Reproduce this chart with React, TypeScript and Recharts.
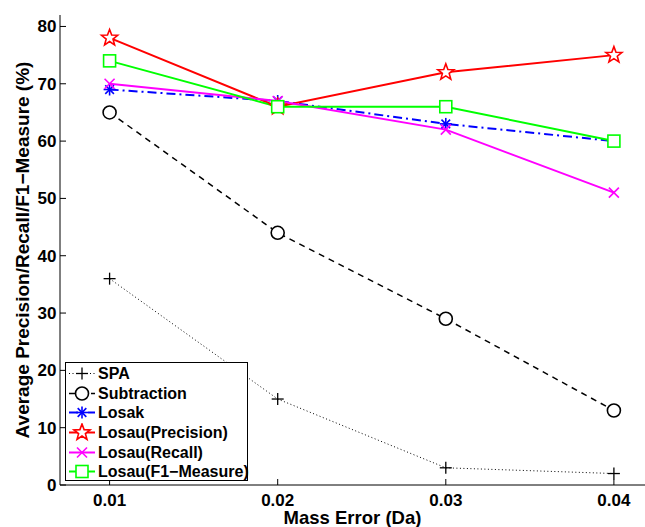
import { LineChart, Line, XAxis, YAxis } from 'recharts';

const massError = [0.01, 0.02, 0.03, 0.04];
const spa = [36, 15, 3, 2];
const subtraction = [65, 44, 29, 13];
const losak = [69, 67, 63, 60];
const losauPrecision = [78, 66, 72, 75];
const losauRecall = [70, 67, 62, 51];
const losauF1 = [74, 66, 66, 60];
const xTicks = [0.01, 0.02, 0.03, 0.04];
const yTicks = [0, 10, 20, 30, 40, 50, 60, 70, 80];

const FONT = '"Liberation Sans", Arial, Helvetica, sans-serif';

type MarkerKind = 'plus' | 'circle' | 'asterisk' | 'star' | 'cross' | 'square';

const series = [
  { key: 'spa', name: 'SPA', values: spa, color: '#000000', width: 1, dash: '1 2.5', marker: 'plus' as MarkerKind },
  { key: 'subtraction', name: 'Subtraction', values: subtraction, color: '#000000', width: 1.5, dash: '6 5', marker: 'circle' as MarkerKind },
  { key: 'losak', name: 'Losak', values: losak, color: '#0000ff', width: 2, dash: '9 4 2 4', marker: 'asterisk' as MarkerKind },
  { key: 'precision', name: 'Losau(Precision)', values: losauPrecision, color: '#ff0000', width: 2, dash: undefined, marker: 'star' as MarkerKind },
  { key: 'recall', name: 'Losau(Recall)', values: losauRecall, color: '#ff00ff', width: 2, dash: undefined, marker: 'cross' as MarkerKind },
  { key: 'f1', name: 'Losau(F1\u2212Measure)', values: losauF1, color: '#00ff00', width: 2, dash: undefined, marker: 'square' as MarkerKind },
];

const data = massError.map((x, i) => {
  const row: Record<string, number> = { x };
  series.forEach((s) => {
    row[s.key] = s.values[i];
  });
  return row;
});

function marker(kind: MarkerKind, cx: number, cy: number, color: string, key?: string) {
  const sw = 1.6;
  if (kind === 'plus') {
    const r = 6;
    return (
      <g key={key}>
        <line x1={cx - r} y1={cy} x2={cx + r} y2={cy} stroke={color} strokeWidth={1.3} />
        <line x1={cx} y1={cy - r} x2={cx} y2={cy + r} stroke={color} strokeWidth={1.3} />
      </g>
    );
  }
  if (kind === 'circle') {
    return <circle key={key} cx={cx} cy={cy} r={6.5} fill="#fff" stroke={color} strokeWidth={sw} />;
  }
  if (kind === 'asterisk') {
    const r = 6;
    const d = r * 0.72;
    return (
      <g key={key} stroke={color} strokeWidth={sw}>
        <line x1={cx - r} y1={cy} x2={cx + r} y2={cy} />
        <line x1={cx} y1={cy - r} x2={cx} y2={cy + r} />
        <line x1={cx - d} y1={cy - d} x2={cx + d} y2={cy + d} />
        <line x1={cx - d} y1={cy + d} x2={cx + d} y2={cy - d} />
      </g>
    );
  }
  if (kind === 'star') {
    const R = 8.5;
    const rIn = R * 0.42;
    const pts: string[] = [];
    for (let k = 0; k < 10; k++) {
      const a = -Math.PI / 2 + (k * Math.PI) / 5;
      const rr = k % 2 === 0 ? R : rIn;
      pts.push(`${cx + rr * Math.cos(a)},${cy + rr * Math.sin(a)}`);
    }
    return <polygon key={key} points={pts.join(' ')} fill="#fff" stroke={color} strokeWidth={sw} />;
  }
  if (kind === 'cross') {
    const r = 5;
    return (
      <g key={key} stroke={color} strokeWidth={sw}>
        <line x1={cx - r} y1={cy - r} x2={cx + r} y2={cy + r} />
        <line x1={cx - r} y1={cy + r} x2={cx + r} y2={cy - r} />
      </g>
    );
  }
  const h = 6;
  return <rect key={key} x={cx - h} y={cy - h} width={2 * h} height={2 * h} fill="#fff" stroke={color} strokeWidth={sw} />;
}

const XTick = (props: any) => {
  const { x, y, payload } = props;
  return (
    <g>
      <line x1={x} y1={y} x2={x} y2={y - 6} stroke="#000" />
      <text x={x} y={y + 20.5} textAnchor="middle" fontFamily={FONT} fontWeight="bold" fontSize={17} fill="#000">
        {Number(payload.value).toFixed(2)}
      </text>
    </g>
  );
};

const YTick = (props: any) => {
  const { x, y, payload } = props;
  return (
    <g>
      <line x1={x} y1={y} x2={x + 6} y2={y} stroke="#000" />
      <text x={x - 3.5} y={y + 6} textAnchor="end" fontFamily={FONT} fontWeight="bold" fontSize={17} fill="#000">
        {payload.value}
      </text>
    </g>
  );
};

const YLabel = (props: any) => {
  const vb = props.viewBox || { y: 15, height: 470 };
  const cy = vb.y + vb.height / 2;
  return (
    <text
      transform={`translate(29, ${cy}) rotate(-90)`}
      textAnchor="middle"
      fontFamily={FONT}
      fontWeight="bold"
      fontSize={19}
      fill="#000"
    >
      Average Precision/Recall/F1{'\u2212'}Measure (%)
    </text>
  );
};

const XLabel = (props: any) => {
  const vb = props.viewBox || { x: 60, width: 585, y: 485 };
  const cx = vb.x + vb.width / 2;
  return (
    <text x={cx} y={523.5} textAnchor="middle" fontFamily={FONT} fontWeight="bold" fontSize={18.5} fill="#000">
      Mass Error (Da)
    </text>
  );
};

const LegendBox = () => (
  <div
    style={{
      position: 'absolute',
      left: 65,
      top: 362,
      width: 183,
      height: 119,
      boxSizing: 'border-box',
      border: '1.5px solid #000',
      background: '#fff',
      paddingTop: 1,
    }}
  >
    {series.map((s) => (
      <div key={s.key} style={{ display: 'flex', alignItems: 'center', height: 19.6 }}>
        <svg width={31} height={19} style={{ flex: 'none', marginLeft: 1 }}>
          <line x1={2} y1={9.5} x2={28} y2={9.5} stroke={s.color} strokeWidth={s.width} strokeDasharray={s.dash} />
          {marker(s.marker, 15, 9.5, s.color)}
        </svg>
        <span
          style={{
            fontFamily: FONT,
            fontWeight: 'bold',
            fontSize: 16,
            color: '#000',
            whiteSpace: 'nowrap',
            lineHeight: '19px',
          }}
        >
          {s.name}
        </span>
      </div>
    ))}
  </div>
);

export default function App() {
  return (
    <div style={{ position: 'absolute', left: 0, top: 0, width: 645, height: 527, background: '#fff' }}>
      <LineChart width={645} height={527} data={data} margin={{ top: 15, right: 0, left: 0, bottom: 0 }}>
        <XAxis
          dataKey="x"
          type="number"
          domain={[0.00705, 0.04185]}
          ticks={xTicks}
          interval={0}
          height={42}
          allowDataOverflow
          axisLine={{ stroke: '#000', strokeWidth: 1 }}
          tickLine={false}
          tickSize={0}
          tickMargin={0}
          tick={<XTick />}
          label={{ content: <XLabel /> }}
        />
        <YAxis
          type="number"
          domain={[0, 82]}
          ticks={yTicks}
          interval={0}
          width={60}
          allowDataOverflow
          axisLine={{ stroke: '#000', strokeWidth: 1 }}
          tickLine={false}
          tickSize={0}
          tickMargin={0}
          tick={<YTick />}
          label={{ content: <YLabel /> }}
        />
        {series.map((s) => (
          <Line
            key={s.key}
            dataKey={s.key}
            name={s.name}
            type="linear"
            stroke={s.color}
            strokeWidth={s.width}
            strokeDasharray={s.dash}
            isAnimationActive={false}
            activeDot={false}
            dot={(p: any) => marker(s.marker, p.cx, p.cy, s.color, `${s.key}-${p.index}`)}
          />
        ))}
      </LineChart>
      <LegendBox />
    </div>
  );
}
